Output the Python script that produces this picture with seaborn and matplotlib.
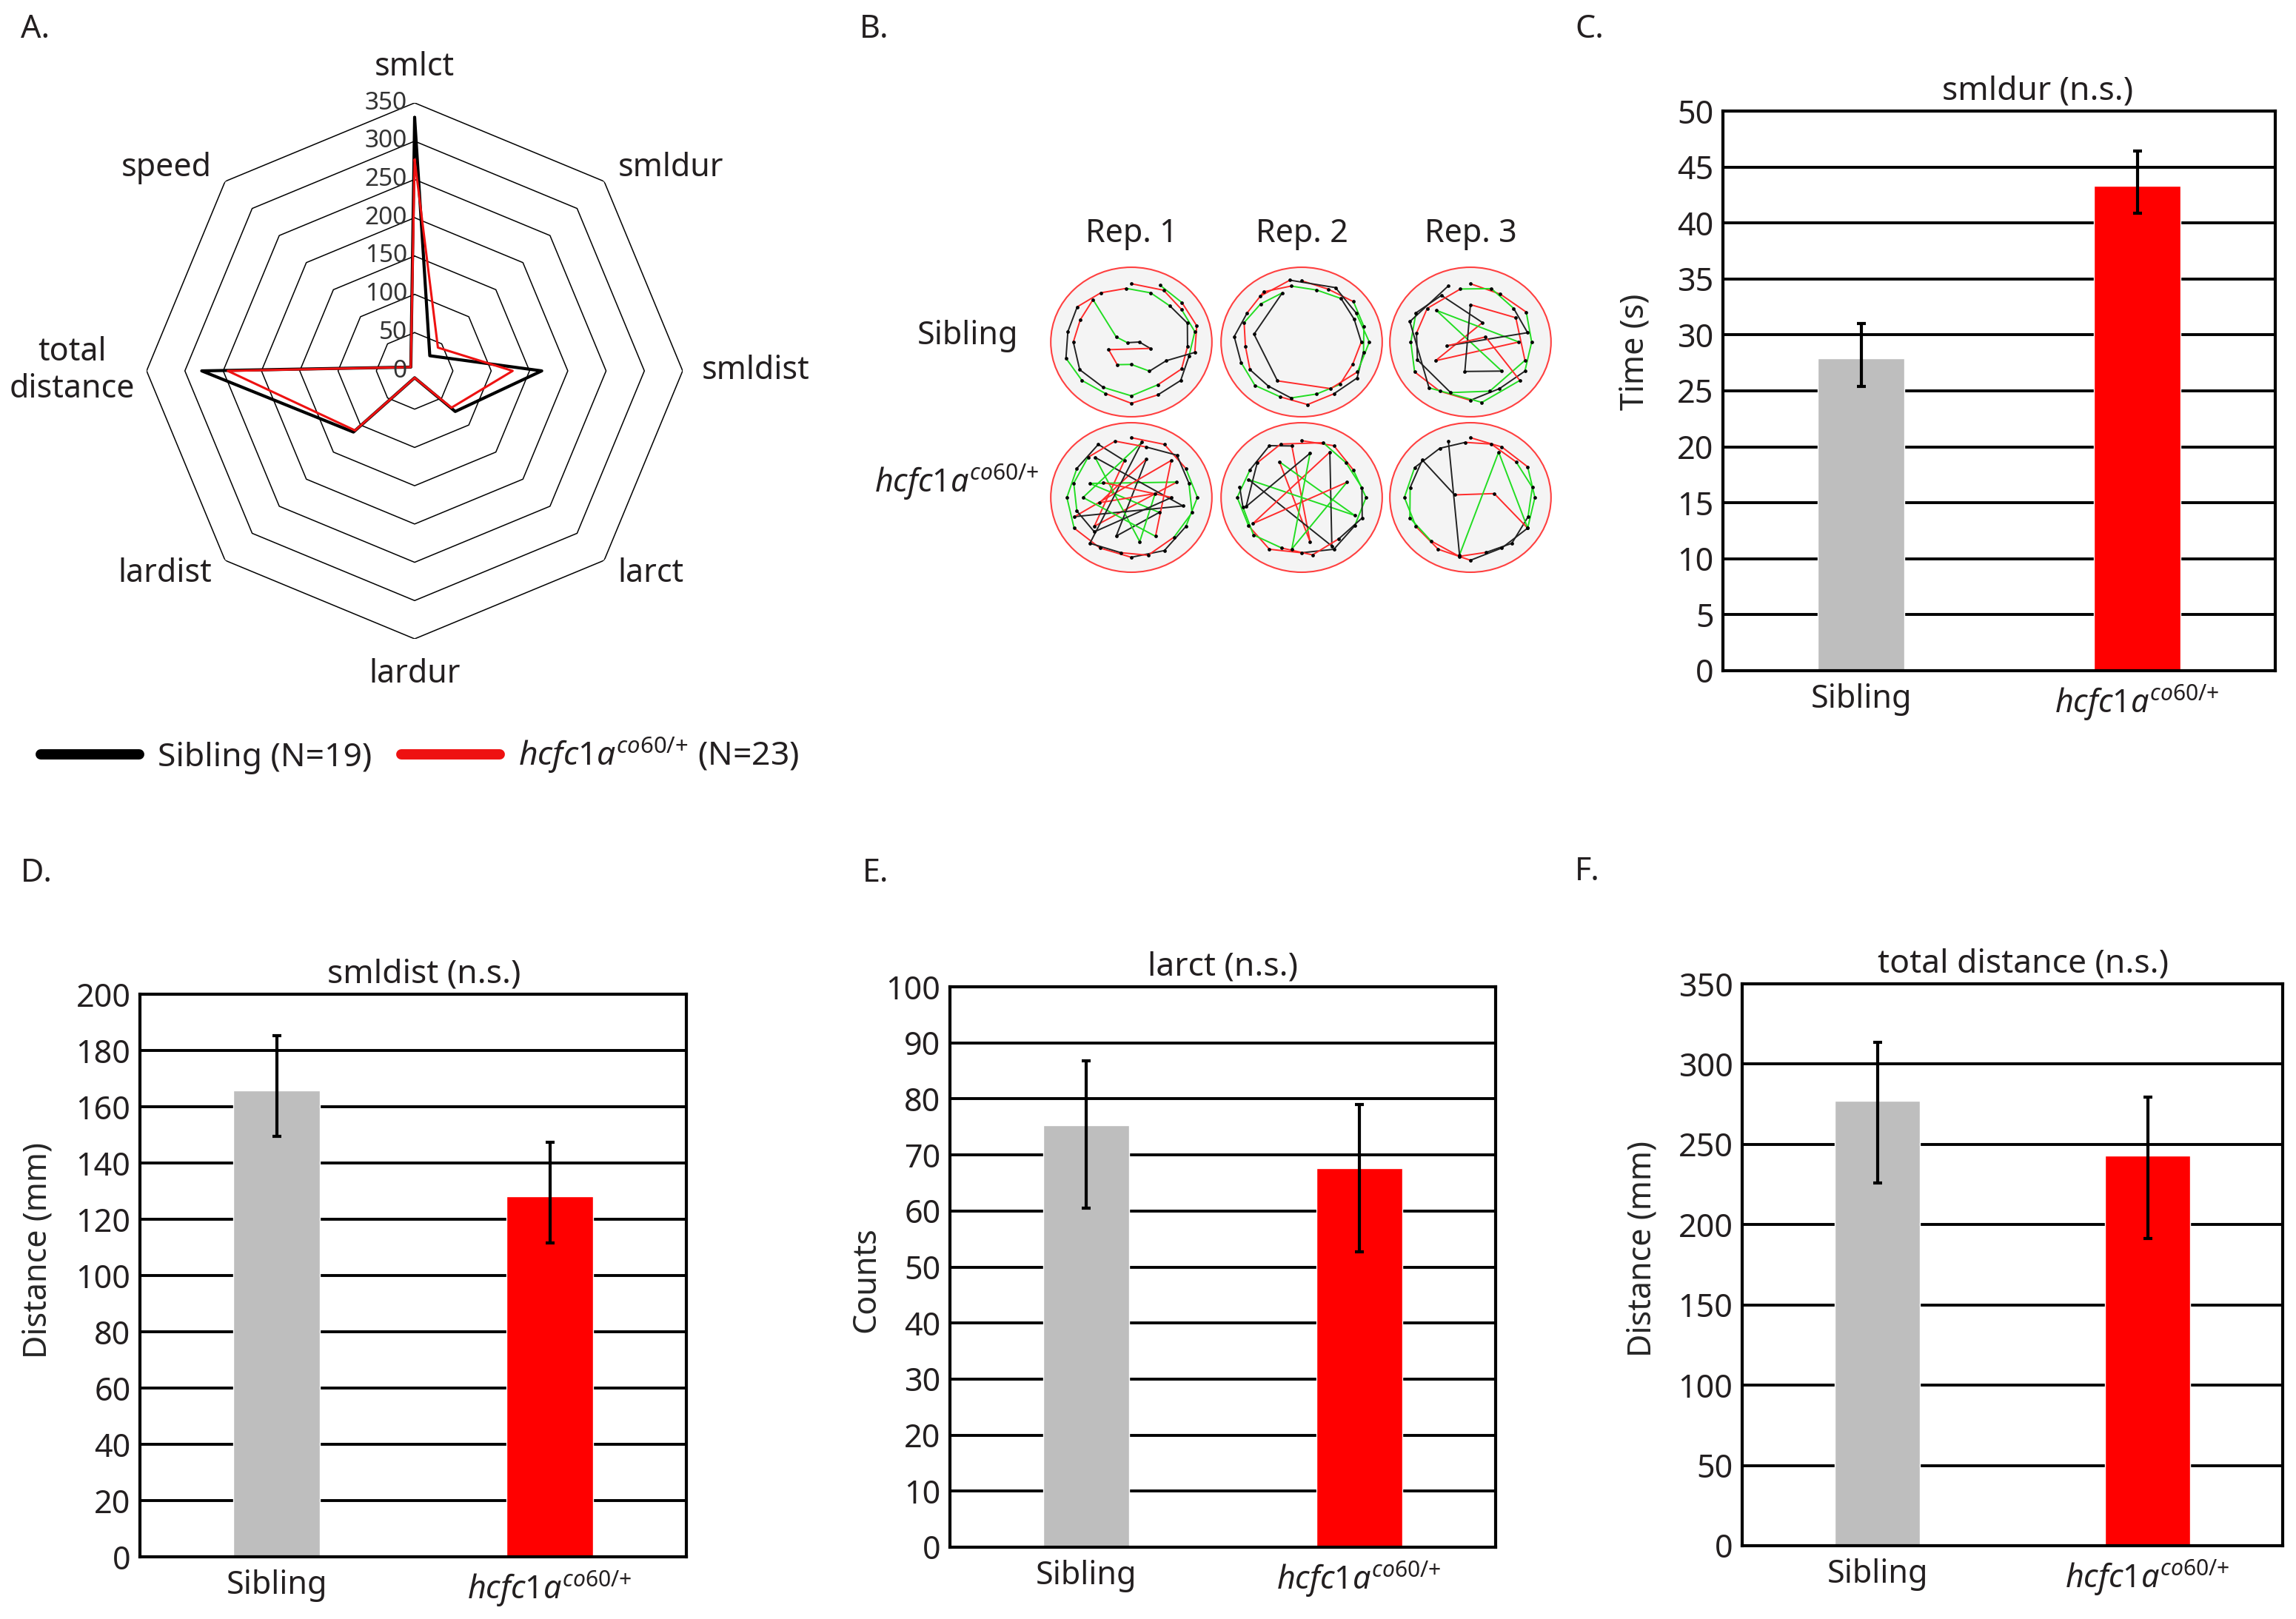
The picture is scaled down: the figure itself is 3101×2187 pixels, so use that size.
import numpy as np
import matplotlib
matplotlib.use("Agg")
import matplotlib.pyplot as plt
import matplotlib.transforms as mtransforms
from matplotlib.patches import Ellipse
import seaborn as sns

sns.set_style("white")
plt.rcParams['font.family'] = ['Noto Sans', 'DejaVu Sans']
plt.rcParams['mathtext.fontset'] = 'custom'
plt.rcParams['mathtext.rm'] = 'Noto Sans'
plt.rcParams['mathtext.it'] = 'Noto Sans:italic'
plt.rcParams['text.color'] = '#231f20'

# ---- data ----
mut_label = r'$\mathit{hcfc1a}^{\mathit{co60/}{+}}$'
groups = ['Sibling', mut_label]
bar_colors = ['#bebebe', '#ff0000']

# A. radar
radar_axes = ['smlct', 'smldur', 'smldist', 'larct', 'lardur', 'lardist', 'total\ndistance', 'speed']
sib_radar = [331, 28, 166, 75, 9, 113, 278, 7]
mut_radar = [276, 43, 128, 68, 9, 110, 244, 7]
ring_values = [0, 50, 100, 150, 200, 250, 300, 350]

# C-F. bars (mean, lower and upper end of error bar)
smldur_mean = [27.9, 43.3]
smldur_low = [25.4, 40.9]
smldur_high = [31.0, 46.4]

smldist_mean = [165.8, 128.1]
smldist_low = [149.6, 111.7]
smldist_high = [185.3, 147.5]

larct_mean = [75.3, 67.6]
larct_low = [60.5, 52.7]
larct_high = [86.8, 79.0]

totdist_mean = [277, 243]
totdist_low = [226, 191.5]
totdist_high = [313.4, 279.3]

# B. swim tracks, (angle in degrees, fraction of arena radius)
reps = ['Rep. 1', 'Rep. 2', 'Rep. 3']
track_rows = ['Sibling', mut_label]
sib_rep1 = [(90, .78), (60, .8), (35, .76), (10, .8), (-15, .74), (-40, .8), (-65, .78), (-90, .82),
            (-115, .76), (-140, .8), (-165, .84), (170, .8), (145, .82), (120, .76), (95, .72), (70, .7),
            (45, .68), (20, .74), (-5, .7), (-30, .72), (-60, .66), (-90, .72), (-120, .7), (-150, .74),
            (180, .72), (155, .7), (130, .74), (160, .2), (-170, .05), (0, .1), (-20, .25), (-160, .3),
            (-120, .35), (-90, .3), (-60, .45), (-30, .5), (-10, .8), (15, .84), (40, .82), (65, .84)]
sib_rep2 = [(90, .82), (65, .78), (40, .84), (15, .8), (-10, .78), (-35, .84), (-60, .8), (-85, .84),
            (-110, .78), (-135, .82), (-160, .8), (175, .84), (150, .78), (125, .82), (100, .76), (75, .72),
            (50, .76), (25, .72), (0, .74), (-25, .7), (-50, .74), (-75, .72), (-100, .76), (-125, .72),
            (-150, .74), (-175, .7), (160, .76), (135, .72), (110, .7), (170, .6), (-120, .6), (-60, .72),
            (-30, .8), (0, .84), (30, .78), (60, .84), (100, .84), (130, .8)]
sib_rep3 = [(90, .78), (60, .74), (30, .8), (0, .76), (-30, .78), (-60, .72), (-90, .78), (-120, .76),
            (-150, .8), (180, .74), (150, .78), (120, .72), (60, .3), (-150, .5), (0, .6), (135, .6),
            (-45, .55), (-100, .4), (90, .5), (30, .65), (-20, .72), (-70, .7), (-110, .72), (-160, .7),
            (170, .68), (140, .7), (100, .72), (70, .76), (40, .7), (10, .72), (-170, .3), (20, .2),
            (-40, .8), (-80, .82), (-130, .8), (160, .8), (110, .8)]
mut_rep1 = [(90, .8), (60, .82), (30, .78), (0, .82), (-30, .78), (-60, .82), (-90, .8), (-120, .78),
            (-150, .82), (180, .8), (150, .78), (120, .82), (100, .5), (-140, .6), (20, .6), (160, .55),
            (-30, .4), (-110, .55), (70, .55), (-170, .4), (10, .3), (-80, .6), (130, .7), (-10, .65),
            (-160, .75), (45, .7), (-60, .6), (180, .6), (80, .75), (-130, .8), (-100, .75), (-75, .8),
            (-45, .75), (-15, .78), (15, .74), (45, .8), (75, .7), (105, .78), (135, .76), (165, .74),
            (-165, .7), (-135, .65), (0, .5), (150, .4)]
mut_rep2 = [(90, .76), (60, .8), (30, .74), (0, .8), (-30, .76), (-60, .8), (-90, .74), (-120, .8),
            (-150, .76), (180, .8), (150, .74), (120, .8), (100, .7), (-80, .6), (120, .55), (-20, .7),
            (160, .7), (-60, .75), (60, .7), (-150, .7), (20, .6), (-100, .7), (80, .6), (-170, .7),
            (140, .72), (110, .76), (70, .78), (40, .72), (10, .76), (-20, .8), (-50, .72), (-80, .78),
            (-110, .72), (-140, .78), (-170, .74), (170, .78)]
mut_rep3 = [(90, .8), (60, .78), (30, .82), (0, .8), (-30, .82), (-60, .78), (-90, .84), (-120, .8),
            (-150, .78), (180, .82), (150, .8), (120, .76), (95, .74), (70, .76), (40, .74), (10, .78),
            (-20, .76), (-50, .8), (-75, .76), (-100, .8), (-130, .76), (-160, .8), (170, .76), (140, .78),
            (170, .2), (10, .3), (-30, .82), (60, .7), (-100, .78), (110, .8)]
tracks = [[sib_rep1, sib_rep2, sib_rep3], [mut_rep1, mut_rep2, mut_rep3]]

# ---- figure ----
W, H = 3101, 2187
fig = plt.figure(figsize=(W / 100, H / 100), dpi=100)


def box(x0, y0, x1, y1):
    return [x0 / W, 1 - y1 / H, (x1 - x0) / W, (y1 - y0) / H]


def panel_letter(x, y, s):
    fig.text(x / W, 1 - y / H, s, fontsize=31, ha='left', va='center')


# A. radar chart
ax = fig.add_axes(box(198, 139, 922, 863), projection='polar')
ax.set_theta_zero_location('N')
ax.set_theta_direction(-1)
ax.set_ylim(0, 350)
ax.axis('off')
theta = np.deg2rad(np.arange(len(radar_axes)) * 45)
closed = np.append(theta, theta[0])
for v in ring_values[1:]:
    ax.plot(closed, [v] * len(closed), color='black', lw=1.1)
sib_line, = ax.plot(closed, sib_radar + sib_radar[:1], color='black', lw=3)
mut_line, = ax.plot(closed, mut_radar + mut_radar[:1], color='#ee1111', lw=2.2)
off = mtransforms.offset_copy(ax.transData, fig=fig, x=-10, y=0, units='dots')
for v in ring_values:
    ax.text(0, v, str(v), transform=off, ha='right', va='center', fontsize=24, color='#333333')
aligns = [('center', 'bottom'), ('left', 'center'), ('left', 'center'), ('left', 'center'),
          ('center', 'top'), ('right', 'center'), ('right', 'center'), ('right', 'center')]
for t, name, (ha, va) in zip(theta, radar_axes, aligns):
    ax.text(t, 375 if '\n' not in name else 365, name, ha=ha, va=va, fontsize=31,
            multialignment='center')

leg = fig.legend([sib_line, mut_line], ['Sibling (N=19)', mut_label + ' (N=23)'],
                 loc='center left', bbox_to_anchor=(55 / W, 1 - 1021 / H), ncol=2, frameon=False,
                 handlelength=3.0, handletextpad=0.55, columnspacing=0.9, fontsize=32,
                 borderpad=0, borderaxespad=0)
for ln in leg.get_lines():
    ln.set_linewidth(10)
    ln.set_solid_capstyle('round')
panel_letter(28, 40, 'A.')

# B. swim tracks
col_x = [1528, 1758, 1986]
row_y = [462, 672]
seg_colors = ['#ff2a2a', '#22dd22', '#222222']
for j, rep in enumerate(reps):
    fig.text(col_x[j] / W, 1 - 316 / H, rep, fontsize=31, ha='center', va='center')
fig.text(1375 / W, 1 - 454 / H, track_rows[0], fontsize=31, ha='right', va='center')
fig.text(1404 / W, 1 - 652 / H, track_rows[1], fontsize=31, ha='right', va='center')
for i in range(2):
    for j in range(3):
        cx, cy = col_x[j], row_y[i]
        tax = fig.add_axes(box(cx - 111, cy - 103, cx + 111, cy + 103))
        tax.set_xlim(-1.02, 1.02)
        tax.set_ylim(-1.02, 1.02)
        tax.axis('off')
        tax.add_patch(Ellipse((0, 0), 2, 2, fc='#f4f4f4', ec='#ff4040', lw=1.5))
        pts = np.array(tracks[i][j])
        ang = np.deg2rad(pts[:, 0])
        xs = pts[:, 1] * np.cos(ang)
        ys = pts[:, 1] * np.sin(ang)
        for k in range(len(xs) - 1):
            tax.plot(xs[k:k + 2], ys[k:k + 2], color=seg_colors[(k // 2) % 3], lw=1.4)
        tax.plot(xs, ys, 'o', ms=2.4, color='black')
panel_letter(1161, 40, 'B.')


# C-F. bar charts
def bar_panel(rect, means, low, high, ymax, step, title, title_x, ylabel, label_xy):
    bax = fig.add_axes(box(*rect))
    sns.barplot(x=groups, y=means, hue=groups, palette=bar_colors, width=0.315,
                saturation=1, legend=False, ax=bax)
    m = np.array(means)
    bax.errorbar([0, 1], m, yerr=[m - np.array(low), np.array(high) - m], fmt='none',
                 ecolor='black', elinewidth=3, capsize=4, capthick=3)
    bax.set_xlim(-0.5, 1.5)
    bax.set_ylim(0, ymax)
    bax.set_yticks(np.arange(0, ymax + 1, step))
    bax.yaxis.grid(True, color='black', linewidth=2.8)
    bax.xaxis.grid(False)
    bax.set_axisbelow(True)
    for sp in bax.spines.values():
        sp.set_color('black')
        sp.set_linewidth(3)
    bax.tick_params(axis='y', length=0, pad=9, labelsize=31, labelcolor='#231f20')
    bax.tick_params(axis='x', length=0, pad=12, labelsize=31, labelcolor='#231f20')
    bax.set_title(title, fontsize=32, pad=11, x=title_x)
    bax.set_ylabel(ylabel, fontsize=31)
    bax.yaxis.set_label_coords(*label_xy)
    return bax


bar_panel((2327, 150, 3073, 906), smldur_mean, smldur_low, smldur_high, 50, 5,
          'smldur (n.s.)', 0.57, 'Time (s)', (-0.129, 0.57))
panel_letter(2127, 40, 'C.')
bar_panel((189, 1343, 927, 2103), smldist_mean, smldist_low, smldist_high, 200, 20,
          'smldist (n.s.)', 0.52, 'Distance (mm)', (-0.157, 0.545))
panel_letter(28, 1180, 'D.')
bar_panel((1283, 1333, 2020, 2090), larct_mean, larct_low, larct_high, 100, 10,
          'larct (n.s.)', 0.5, 'Counts', (-0.123, 0.478))
panel_letter(1165, 1180, 'E.')
bar_panel((2353, 1329, 3083, 2088), totdist_mean, totdist_low, totdist_high, 350, 50,
          'total distance (n.s.)', 0.52, 'Distance (mm)', (-0.154, 0.528))
panel_letter(2127, 1178, 'F.')

fig.savefig('out.png', dpi=100)
